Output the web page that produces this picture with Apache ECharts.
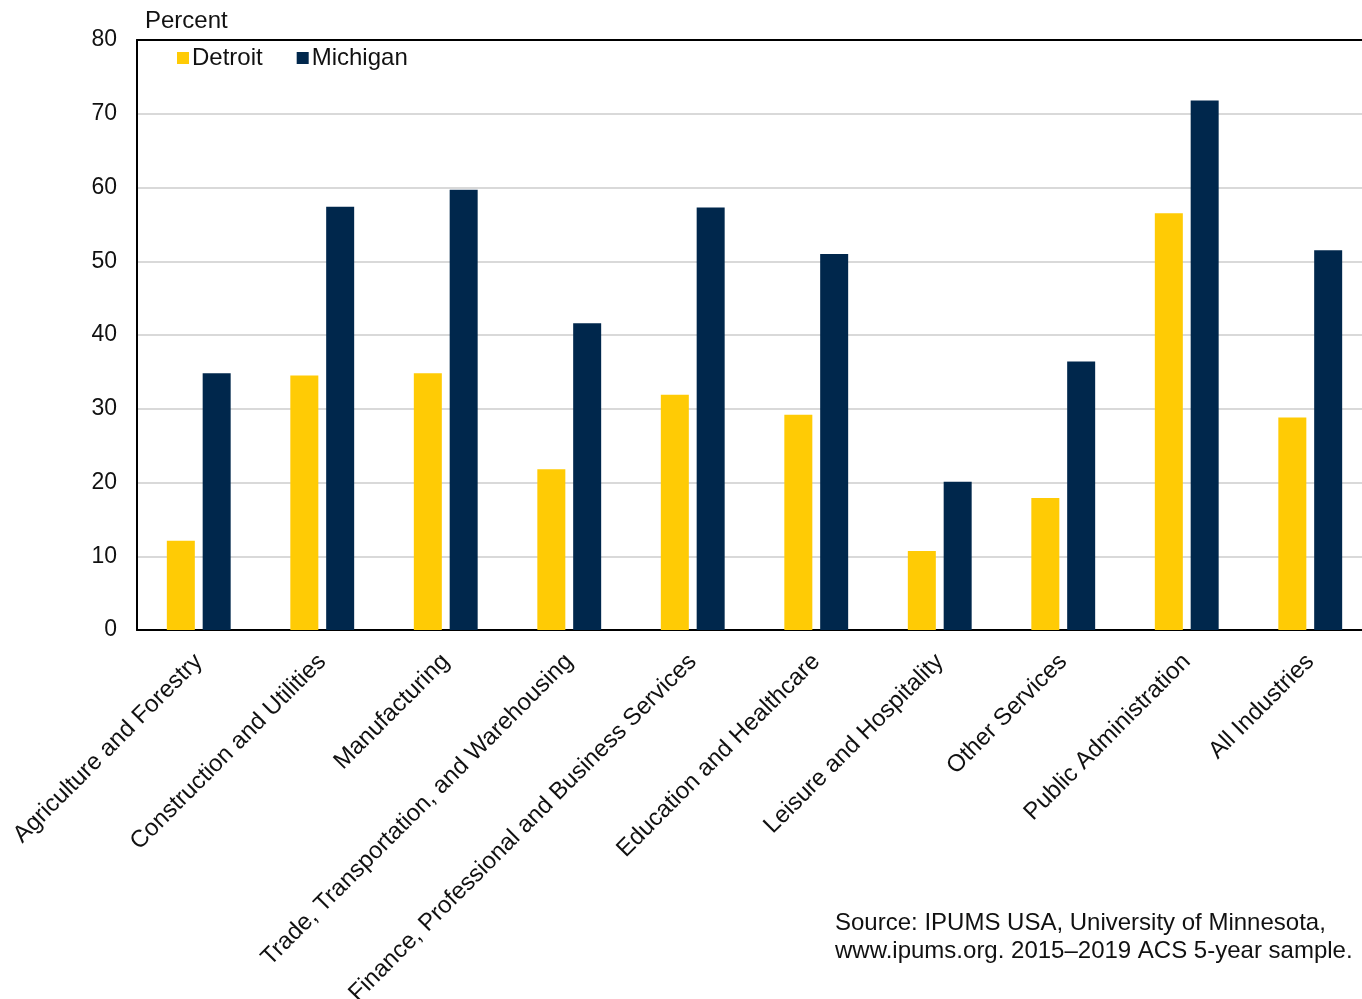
<!DOCTYPE html>
<html>
<head>
<meta charset="utf-8">
<script src="https://cdn.jsdelivr.net/npm/echarts@6/dist/echarts.min.js"></script>
<style>html,body{margin:0;padding:0;background:#fff}#c{width:1362px;height:999px}</style>
</head>
<body>
<div id="c"></div>
<script>
const categories = ["Agriculture and Forestry","Construction and Utilities","Manufacturing","Trade, Transportation, and Warehousing","Finance, Professional and Business Services","Education and Healthcare","Leisure and Hospitality","Other Services","Public Administration","All Industries"];
const detroit = [12.1, 34.5, 34.8, 21.8, 31.9, 29.2, 10.7, 17.9, 56.5, 28.8];
const michigan = [34.8, 57.4, 59.7, 41.6, 57.3, 51.0, 20.1, 36.4, 71.8, 51.5];
const yTicks = [0, 10, 20, 30, 40, 50, 60, 70, 80];

const chart = echarts.init(document.getElementById('c'), null, {renderer: 'canvas'});
const font = 'Liberation Sans, Arial, sans-serif';
const fs = 24;
chart.setOption({
  animation: false,
  textStyle: {fontFamily: font},
  grid: {left: 137, right: -10, top: 40, bottom: 369, containLabel: false, outerBoundsMode: 'none'},
  legend: {
    left: 172, top: 41, itemWidth: 12, itemHeight: 12, itemGap: 34,
    icon: 'rect',
    textStyle: {fontSize: fs, color: '#111', fontFamily: font, padding: [0,0,0,-2]},
    data: ['Detroit', 'Michigan']
  },
  xAxis: [{
    type: 'category', data: categories,
    axisLine: {lineStyle: {color: '#000', width: 2}},
    axisTick: {show: false},
    axisLabel: {rotate: 45, fontSize: fs, color: '#111', margin: 28, interval: 0, fontFamily: font}
  }, {
    type: 'category', position: 'top', data: categories,
    axisLine: {lineStyle: {color: '#000', width: 2}},
    axisTick: {show: false}, axisLabel: {show: false}
  }],
  yAxis: {
    type: 'value', min: yTicks[0], max: yTicks[yTicks.length-1], interval: 10,
    axisLine: {show: true, lineStyle: {color: '#000', width: 2}},
    axisTick: {show: false},
    axisLabel: {fontSize: 23, color: '#111', margin: 20, fontFamily: font},
    splitLine: {lineStyle: {color: '#d9d9d9', width: 2}}
  },
  series: [{
    name: 'Detroit', type: 'bar', data: detroit, barWidth: 28, barGap: '28%',
    itemStyle: {color: '#FFCB05'}
  }, {
    name: 'Michigan', type: 'bar', data: michigan, barWidth: 28,
    itemStyle: {color: '#00274C'}
  }],
  graphic: [{
    type: 'text', left: 145, top: 9,
    style: {text: 'Percent', font: fs + 'px ' + font, fill: '#111'}
  }, {
    type: 'text', left: 835, top: 909,
    style: {text: 'Source: IPUMS USA, University of Minnesota,\nwww.ipums.org. 2015\u20132019 ACS 5-year sample.', font: fs + 'px ' + font, fill: '#111', lineHeight: 28}
  }]
});
</script>
</body>
</html>
